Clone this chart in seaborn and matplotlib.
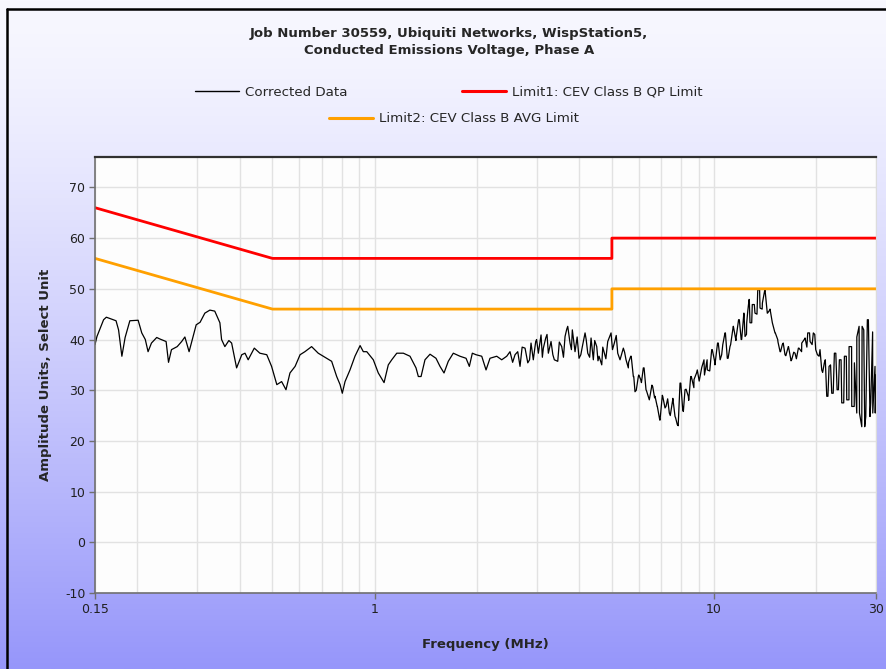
import numpy as np
import pandas as pd
import seaborn as sns
import matplotlib.pyplot as plt
from matplotlib.lines import Line2D

# Corrected data trace (MHz, dB units)
freq_mhz = [
    0.150, 0.152, 0.159, 0.162, 0.173, 0.176, 0.180, 0.184, 0.190, 0.201,
    0.206, 0.211, 0.215, 0.220, 0.228, 0.233, 0.243, 0.247, 0.252, 0.262,
    0.270, 0.276, 0.284, 0.298, 0.306, 0.316, 0.327, 0.338, 0.350, 0.354,
    0.362, 0.372, 0.379, 0.392, 0.406, 0.415, 0.424, 0.442, 0.459, 0.481,
    0.497, 0.515, 0.532, 0.548, 0.563, 0.583, 0.603, 0.623, 0.652, 0.682,
    0.722, 0.747, 0.773, 0.791, 0.803, 0.818, 0.846, 0.875, 0.906, 0.926,
    0.948, 0.991, 1.025, 1.066, 1.097, 1.123, 1.162, 1.215, 1.271, 1.324,
    1.345, 1.370, 1.407, 1.456, 1.516, 1.558, 1.601, 1.648, 1.705, 1.784,
    1.859, 1.901, 1.940, 1.989, 2.068, 2.129, 2.187, 2.289, 2.368, 2.450,
    2.505, 2.592, 2.640, 2.681, 2.774, 2.826, 2.889, 2.934, 2.982, 3.036,
    3.092, 3.141, 3.192, 3.249, 3.309, 3.384, 3.463, 3.558, 3.639, 3.706,
    3.764, 3.823, 3.894, 4.001, 4.092, 4.168, 4.245, 4.341, 4.409, 4.512,
    4.583, 4.668, 4.751, 4.861, 4.972, 5.084, 5.202, 5.284, 5.404, 5.503,
    5.590, 5.682, 5.783, 5.849, 5.982, 6.080, 6.188, 6.302, 6.445, 6.596,
    6.700, 6.806, 6.931, 7.059, 7.218, 7.382, 7.554, 7.674, 7.794, 7.938,
    8.085, 8.212, 8.398, 8.535, 8.728, 8.925, 9.133, 9.340, 9.551, 9.841,
    10.06, 10.29, 10.53, 10.77, 10.94, 11.14, 11.40, 11.61, 11.87, 12.06,
    12.25, 12.34, 12.48, 12.57, 12.70, 12.76, 12.96, 13.20, 13.45, 13.66,
    13.88, 14.13, 14.35, 14.62, 14.85, 15.12, 15.40, 15.65, 15.89, 16.18,
    16.55, 16.93, 17.32, 17.72, 18.13, 18.54, 18.88, 19.18, 19.61, 19.93,
    20.39, 20.76, 21.13, 21.48, 21.82, 22.22, 22.62, 23.04, 23.40, 23.78,
    24.21, 24.60, 24.99, 25.45, 25.91, 26.33, 26.75, 27.24, 27.61, 27.99,
    28.49, 28.95, 29.35, 29.80, 30.00,
]
corrected_db = [
    39.0, 40.6, 43.9, 44.4, 43.7, 41.9, 36.7, 40.4, 43.7, 43.8,
    41.3, 40.0, 37.6, 39.3, 40.4, 40.1, 39.6, 35.5, 38.0, 38.6,
    39.6, 40.5, 37.6, 42.9, 43.4, 45.2, 45.8, 45.6, 43.3, 40.0,
    38.6, 39.8, 39.3, 34.4, 37.0, 37.3, 36.0, 38.3, 37.3, 37.0,
    34.7, 31.1, 31.7, 30.1, 33.4, 34.7, 37.0, 37.6, 38.6, 37.3,
    36.3, 35.7, 32.7, 31.1, 29.4, 31.7, 34.0, 36.7, 38.8, 37.6,
    37.6, 36.0, 33.4, 31.5, 35.0, 36.0, 37.3, 37.3, 36.7, 34.4,
    32.7, 32.7, 36.0, 37.1, 36.3, 34.7, 33.4, 35.7, 37.3, 36.7,
    36.3, 34.7, 37.3, 37.0, 36.7, 34.0, 36.3, 36.7, 36.0, 36.7,
    37.6, 37.0, 37.6, 34.7, 38.3, 35.4, 39.3, 36.0, 39.6, 37.3,
    40.9, 38.3, 40.3, 37.3, 39.6, 36.0, 35.7, 38.6, 40.6, 42.6,
    39.3, 41.9, 37.6, 36.3, 38.6, 41.3, 37.3, 40.3, 36.0, 38.6,
    36.7, 35.0, 37.3, 39.6, 41.3, 39.3, 37.3, 36.0, 38.3, 36.0,
    34.4, 36.7, 32.7, 29.7, 32.7, 32.1, 34.4, 30.1, 28.1, 30.7,
    28.8, 26.8, 24.1, 28.8, 26.8, 25.5, 28.1, 24.8, 23.2, 31.4,
    26.1, 30.1, 28.8, 32.7, 32.1, 34.0, 33.4, 36.0, 34.0, 38.0,
    35.4, 39.3, 37.0, 41.3, 36.3, 38.6, 42.6, 40.3, 43.9, 40.0,
    45.2, 40.6, 43.3, 45.6, 47.9, 43.3, 46.9, 45.2, 49.8, 46.2,
    47.2, 49.8, 45.2, 45.9, 43.3, 41.3, 40.0, 37.6, 39.0, 37.0,
    38.6, 36.0, 37.3, 38.3, 39.3, 40.3, 41.3, 39.6, 41.3, 38.0,
    36.7, 34.0, 35.4, 28.8, 34.7, 29.4, 37.3, 30.1, 36.0, 27.5,
    36.7, 28.1, 38.6, 26.8, 35.4, 25.5, 42.6, 22.8, 41.9, 24.8,
    43.9, 27.5, 25.5, 34.7, 33.0,
]

# extra readings inside the noisy band above 2.5 MHz
band_freq_mhz = [
    2.55, 2.72, 2.86, 3.00, 3.12, 3.22, 3.35, 3.50, 3.60, 3.68,
    3.80, 3.95, 4.05, 4.20, 4.30, 4.45, 4.55, 4.70, 4.80, 4.92,
    5.02, 5.15, 5.25, 5.45, 5.60,
    5.70, 5.80, 5.90, 6.00, 6.11, 6.22, 6.33, 6.44, 6.56, 6.68,
    6.80, 6.92, 7.04, 7.17, 7.30, 7.43, 7.56, 7.70, 7.84, 7.98,
    8.12, 8.27, 8.42, 8.57, 8.72, 8.88, 9.04, 9.20, 9.37, 9.54,
    9.71, 9.88, 10.06, 10.24, 10.42, 10.61, 10.80, 11.00, 11.19, 11.39,
    11.60, 11.81, 12.02, 12.24, 12.46, 12.68, 12.91, 13.14, 13.38, 13.62,
    13.86, 14.11, 14.37, 14.62, 14.89, 15.15, 15.43, 15.70, 15.99, 16.27,
    16.57, 16.86, 17.17, 17.48, 17.79, 18.11, 18.44, 18.77, 19.11, 19.45,
    19.80, 20.16, 20.52, 20.89, 21.27, 21.65, 22.04, 22.44, 22.84, 23.25,
    23.67, 24.10, 24.53, 24.97, 25.42, 25.88, 26.34, 26.82, 27.30, 27.79,
    28.29, 28.80, 29.32, 29.85,
]
band_db = [
    35.5, 38.5, 36.0, 40.0, 36.5, 41.0, 37.0, 39.5, 36.5, 42.0,
    38.0, 40.5, 37.0, 40.0, 36.5, 39.8, 35.8, 38.5, 36.2, 40.5,
    38.0, 40.8, 36.5, 37.5, 35.5,
    36.7, 32.7, 30.0, 33.0, 31.5, 34.4, 29.8, 28.1, 31.0, 28.5,
    26.8, 24.1, 29.0, 26.5, 28.3, 25.0, 28.4, 24.6, 23.0, 31.4,
    25.8, 30.2, 28.0, 32.7, 30.5, 33.4, 31.8, 34.5, 33.0, 36.0,
    33.8, 38.0, 35.0, 39.3, 36.0, 39.0, 41.3, 36.3, 39.0, 42.6,
    39.8, 43.9, 40.0, 45.2, 41.0, 47.9, 43.3, 46.9, 45.0, 49.8,
    46.0, 49.8, 45.2, 46.0, 43.0, 41.3, 39.5, 37.6, 39.3, 36.8,
    38.6, 35.8, 37.5, 36.2, 38.3, 37.6, 40.0, 38.5, 41.3, 39.0,
    41.0, 37.0, 38.0, 33.5, 36.0, 28.8, 35.0, 29.4, 37.3, 30.1,
    36.0, 27.5, 36.7, 28.1, 38.6, 26.8, 40.5, 25.5, 42.6, 22.8,
    43.9, 24.8, 41.5, 25.5,
]

# CEV class B limits
limit_freq = [0.15, 0.5, 5.0, 5.0, 30.0]
qp_limit = [66, 56, 56, 60, 60]
avg_limit = [56, 46, 46, 50, 50]

title = "Job Number 30559, Ubiquiti Networks, WispStation5,\nConducted Emissions Voltage, Phase A"
labels = ["Corrected Data", "Limit1: CEV Class B QP Limit", "Limit2: CEV Class B AVG Limit"]
colors = ["black", "#ff0000", "#ffa000"]

sns.set_style("white")
plt.rcParams['font.family'] = ['DejaVu Sans']
plt.rcParams['axes.unicode_minus'] = False

fig = plt.figure(figsize=(8.86, 6.69), dpi=100)

# background gradient, white at top to lavender at bottom
bg = fig.add_axes([0, 0, 1, 1], zorder=-10)
t = np.linspace(0, 1, 300) ** 1.3
top = np.array([248, 248, 255]) / 255.0
bottom = np.array([150, 150, 250]) / 255.0
grad = top[None, :] * (1 - t[:, None]) + bottom[None, :] * t[:, None]
bg.imshow(grad[:, None, :], aspect='auto', extent=[0, 1, 0, 1])
bg.axis('off')

# frame of the screenshot
fig.add_artist(Line2D([7 / 886, 7 / 886], [0, 1 - 9 / 669], transform=fig.transFigure, color='black', lw=1.8))
fig.add_artist(Line2D([7 / 886, 1], [1 - 9 / 669, 1 - 9 / 669], transform=fig.transFigure, color='black', lw=1.8))

ax = fig.add_axes([95 / 886, 1 - 593 / 669, 781 / 886, 436 / 669])
ax.set_facecolor('#fdfdfd')

df = pd.DataFrame({'freq': freq_mhz + band_freq_mhz, 'amp': corrected_db + band_db})
df = df.sort_values('freq', kind='stable')
lim = pd.DataFrame({'freq': limit_freq, 'qp': qp_limit, 'avg': avg_limit})

sns.lineplot(data=df, x='freq', y='amp', ax=ax, sort=False, estimator=None,
             color=colors[0], lw=0.9, legend=False)
sns.lineplot(data=lim, x='freq', y='qp', ax=ax, sort=False, estimator=None,
             color=colors[1], lw=2.0, legend=False)
sns.lineplot(data=lim, x='freq', y='avg', ax=ax, sort=False, estimator=None,
             color=colors[2], lw=2.0, legend=False)

ax.set_xscale('log')
ax.set_xlim(0.15, 30)
ax.set_ylim(-10, 76)
ax.set_xticks([0.15, 1, 10, 30])
ax.set_xticklabels(['0.15', '1', '10', '30'])
ax.set_xticks([0.2, 0.3, 0.4, 0.5, 0.6, 0.7, 0.8, 0.9, 2, 3, 4, 5, 6, 7, 8, 9, 20], minor=True)
ax.set_yticks(range(-10, 71, 10))
ax.grid(True, which='both', color='#e2e2e2', lw=1.0)
ax.set_axisbelow(True)
ax.tick_params(axis='both', which='major', direction='out', length=4, width=1,
               color='#707070', labelsize=9, labelcolor='#202020', pad=3)
ax.tick_params(axis='x', which='minor', length=0)
ax.tick_params(left=True, bottom=True)

for side in ['left', 'bottom']:
    ax.spines[side].set_color('#707070')
    ax.spines[side].set_linewidth(1.2)
ax.spines['top'].set_color('#303030')
ax.spines['top'].set_linewidth(1.6)
ax.spines['right'].set_color('#dcdcdc')

ax.set_xlabel('Frequency (MHz)', fontsize=9.5, fontweight='bold', labelpad=16)
ax.set_ylabel('Amplitude Units, Select Unit', fontsize=9.5, fontweight='bold', labelpad=9)

fig.text(0.507, 1 - 42 / 669, title, ha='center', va='center', fontsize=9.5,
         fontweight='bold', linespacing=1.35)

handles = [Line2D([], [], color=c, lw=(1.0 if i == 0 else 2.2)) for i, c in enumerate(colors)]
leg1 = fig.legend(handles[:2], labels[:2], loc='center', bbox_to_anchor=(0.507, 1 - 92 / 669),
                  ncol=2, frameon=False, fontsize=9.6, handlelength=3.3, handletextpad=0.45,
                  columnspacing=8.6)
leg2 = fig.legend(handles[2:], labels[2:], loc='center', bbox_to_anchor=(0.512, 1 - 119 / 669),
                  frameon=False, fontsize=9.6, handlelength=3.3, handletextpad=0.45)

fig.savefig('out.png', dpi=100)
